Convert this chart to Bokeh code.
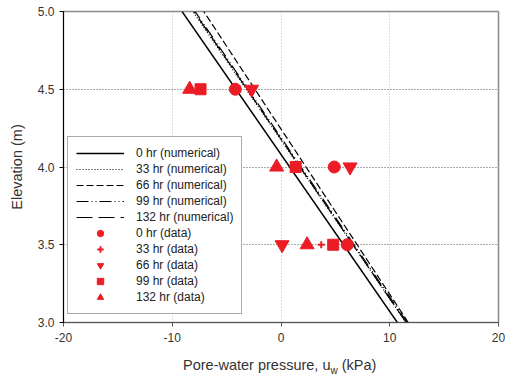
from bokeh.plotting import figure
from bokeh.models import Range1d, FixedTicker, Legend, LegendItem, Div, CustomJSTickFormatter
from bokeh.layouts import column
from bokeh.embed import file_html
from bokeh.resources import INLINE

# Numerical profiles (elevation, pore-water pressure)
z_num = [3.0, 5.0]
u_num_0hr = [10.7, -9.1]
u_num_33hr = [11.5, -8.1]
u_num_66hr = [11.7, -7.1]
u_num_99hr = [11.6, -7.9]
u_num_132hr = [11.5, -8.0]

# Measured data
z_data = [4.5, 4.0, 3.5]
u_data_0hr = [-4.2, 4.9, 6.1]
u_data_33hr = [-7.4, 1.4, 3.7]
u_data_66hr = [-2.7, 6.35, 0.1]
u_data_99hr = [-7.4, 1.35, 4.8]
u_data_132hr = [-8.4, -0.4, 2.4]

x_ticks = [-20, -10, 0, 10, 20]
y_ticks = [3.0, 3.5, 4.0, 4.5, 5.0]

FONT = "Liberation Sans"
RED = "#EC1C24"

p = figure(width=505, height=345, output_backend="svg", toolbar_location=None,
           x_range=Range1d(-20, 20), y_range=Range1d(3.0, 5.0),
           min_border_left=63, min_border_right=7, min_border_top=11, min_border_bottom=23)
p.background_fill_color = "white"
p.border_fill_color = "white"
p.outline_line_color = "#8a8a8a"
p.outline_line_width = 1.5

p.xaxis.ticker = FixedTicker(ticks=x_ticks)
p.yaxis.ticker = FixedTicker(ticks=y_ticks)
p.yaxis.formatter = CustomJSTickFormatter(code="return tick.toFixed(1);")
p.xaxis.formatter = CustomJSTickFormatter(code="return tick.toFixed(0);")

for ax in (p.xaxis[0], p.yaxis[0]):
    ax.major_tick_out = 4
    ax.major_tick_in = 0
    ax.minor_tick_out = 0
    ax.minor_tick_in = 0
    ax.major_label_text_font = FONT
    ax.major_label_text_font_size = "12px"
    ax.major_label_text_color = "#333333"
    ax.axis_label_text_font = FONT
    ax.axis_label_text_font_size = "14.5px"
    ax.axis_label_text_font_style = "normal"
    ax.axis_label_text_color = "#333333"
p.yaxis.axis_line_color = "black"
p.yaxis.major_tick_line_color = "black"
p.xaxis.axis_line_color = "#555555"
p.xaxis.major_tick_line_color = "#555555"
p.yaxis.axis_label = "Elevation (m)"
p.yaxis.axis_label_standoff = 10
p.yaxis.major_label_standoff = 5
p.xaxis.major_label_standoff = 6

p.xgrid.ticker = FixedTicker(ticks=[-10, 0, 10])
p.ygrid.ticker = FixedTicker(ticks=[3.5, 4.0, 4.5])
p.xgrid.grid_line_color = "#c0c0c0"
p.xgrid.grid_line_dash = "1 2"
p.ygrid.grid_line_color = "#555555"
p.ygrid.grid_line_dash = "1 2"
p.ygrid.grid_line_width = 1.2

# lines
l0 = p.line(u_num_0hr, z_num, line_color="black", line_width=1.4)
l33 = p.line(u_num_33hr, z_num, line_color="black", line_width=1.2, line_dash="1 2")
l66 = p.line(u_num_66hr, z_num, line_color="black", line_width=1.2, line_dash="7 3")
l99 = p.line(u_num_99hr, z_num, line_color="black", line_width=1.2, line_dash="12 3 1 3 1 3")
l132 = p.line(u_num_132hr, z_num, line_color="black", line_width=1.2, line_dash="16 6")

# markers
m0 = p.scatter(u_data_0hr, z_data, marker="circle", size=12, fill_color=RED, line_color=RED)
m33 = p.scatter(u_data_33hr, z_data, marker="cross", size=7, line_color=RED, line_width=2)
m66 = p.scatter(u_data_66hr, z_data, marker="inverted_triangle", size=14, fill_color=RED, line_color=RED)
m99 = p.scatter(u_data_99hr, z_data, marker="square", size=11, fill_color=RED, line_color=RED)
m132 = p.scatter(u_data_132hr, z_data, marker="triangle", size=14, fill_color=RED, line_color=RED)

legend = Legend(items=[
    LegendItem(label="0 hr (numerical)", renderers=[l0]),
    LegendItem(label="33 hr (numerical)", renderers=[l33]),
    LegendItem(label="66 hr (numerical)", renderers=[l66]),
    LegendItem(label="99 hr (numerical)", renderers=[l99]),
    LegendItem(label="132 hr (numerical)", renderers=[l132]),
    LegendItem(label="0 hr (data)", renderers=[m0]),
    LegendItem(label="33 hr (data)", renderers=[m33]),
    LegendItem(label="66 hr (data)", renderers=[m66]),
    LegendItem(label="99 hr (data)", renderers=[m99]),
    LegendItem(label="132 hr (data)", renderers=[m132]),
], location=(4, 8))
legend.label_text_font = FONT
legend.label_text_font_size = "12px"
legend.label_text_color = "#222222"
legend.glyph_width = 48
legend.glyph_height = 16
legend.label_height = 16
legend.spacing = 0
legend.padding = 8
legend.margin = 0
legend.label_standoff = 12
legend.border_line_color = "#555555"
legend.border_line_width = 1.5
legend.background_fill_color = "white"
legend.background_fill_alpha = 1.0
p.add_layout(legend, "center")

xlabel = Div(text="Pore-water pressure, u<sub style='font-size:10px'>w</sub> (kPa)",
             width=300, height=24, margin=(12, 0, 0, 183),
             styles={"font-family": FONT, "font-size": "14.5px", "color": "#333333",
                     "line-height": "17px", "white-space": "nowrap"})

layout = column(p, xlabel, spacing=0)
open("out.html", "w").write(file_html(layout, INLINE))
